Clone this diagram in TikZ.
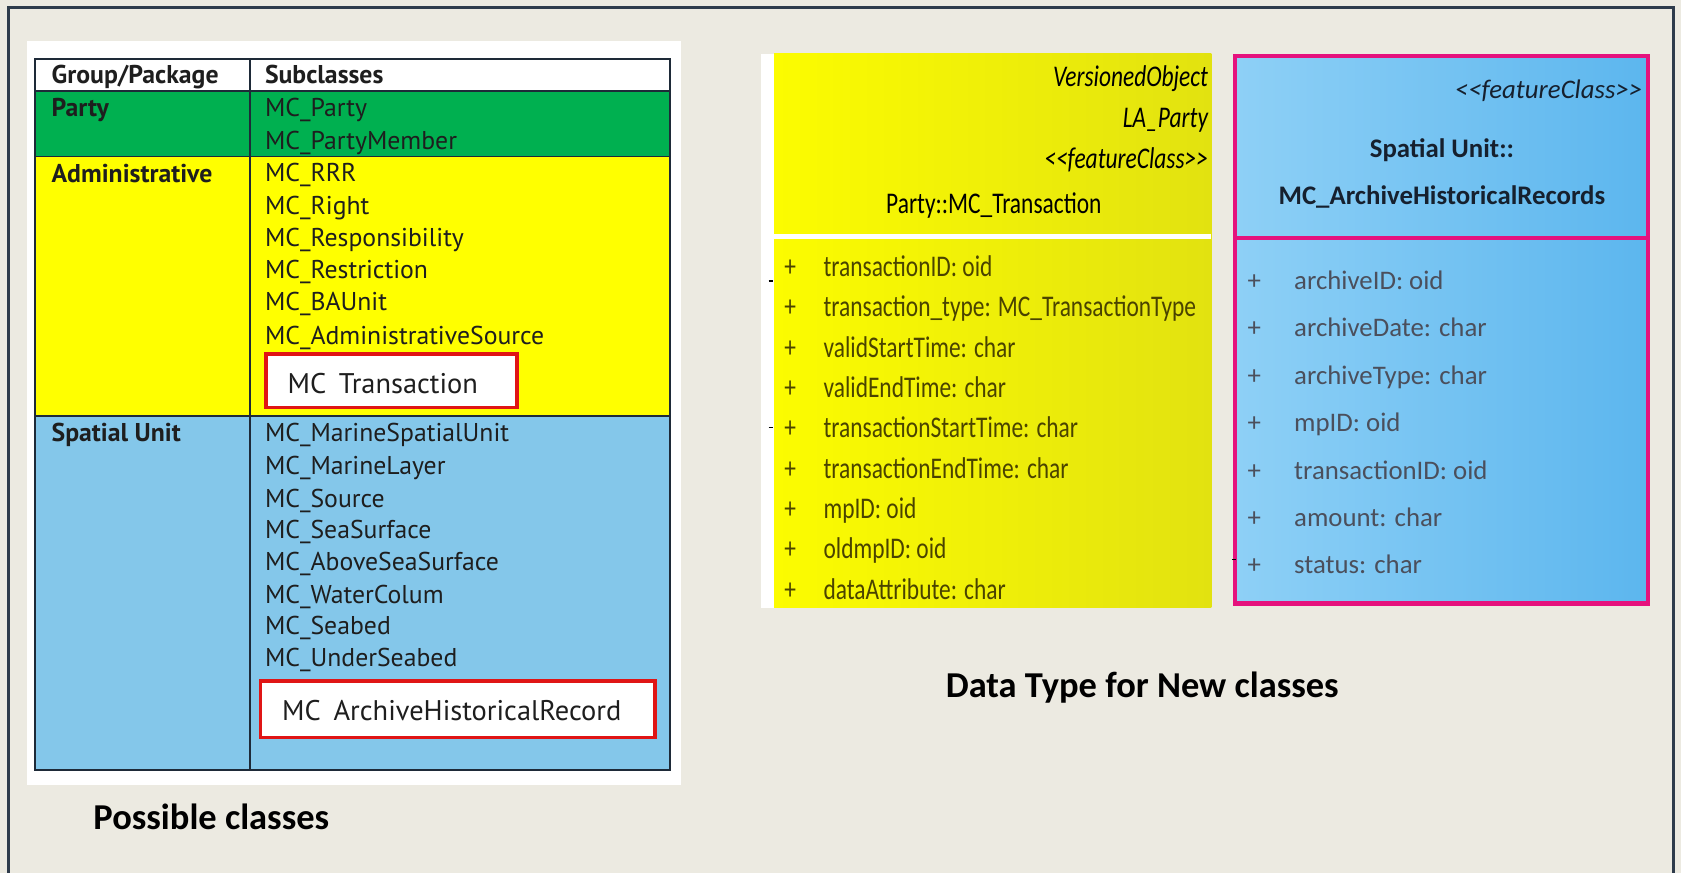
\documentclass[tikz,border=0pt]{standalone}
\usepackage{fontspec}
\setmainfont{Carlito}
\newfontfamily\tabfont{PT Sans}
\usepackage{graphicx}
\newcommand{\umlsq}[1]{\scalebox{0.78}[1]{#1}}
\definecolor{bg}{HTML}{ECEAE1}
\definecolor{framec}{HTML}{2E3B4B}
\definecolor{tline}{HTML}{1E2A38}
\definecolor{pgreen}{HTML}{00B050}
\definecolor{pyellow}{HTML}{FFFF00}
\definecolor{pblue}{HTML}{84C7EA}
\definecolor{ttxt}{HTML}{1E1E1E}
\definecolor{boxred}{HTML}{E01515}
\definecolor{umlyA}{HTML}{FCFC00}
\definecolor{umlyB}{HTML}{E2E210}
\definecolor{olivetxt}{HTML}{4A4300}
\definecolor{umlmag}{HTML}{E5127D}
\definecolor{ublueA}{HTML}{8ED0F6}
\definecolor{ublueB}{HTML}{5CB6EE}
\definecolor{utext}{HTML}{4B4F5C}
\definecolor{navytxt}{HTML}{16202E}
\begin{document}
\begin{tikzpicture}[x=1pt,y=-1pt,
  cell/.style={anchor=base west, inner sep=0pt, text=ttxt, font=\tabfont\fontsize{24}{28}\selectfont},
  hcell/.style={cell, font=\tabfont\bfseries\fontsize{24}{28}\selectfont},
  redbox/.style={draw=boxred, line width=3.5pt, fill=white, inner sep=0pt},
  redtxt/.style={anchor=base west, inner sep=0pt, text=ttxt, font=\tabfont\fontsize{26.5}{30}\selectfont},
  yhead/.style={inner sep=0pt, text=black, font=\fontsize{28}{32}\selectfont},
  yattr/.style={anchor=base west, inner sep=0pt, text=olivetxt, font=\fontsize{28}{32}\selectfont},
  bhead/.style={inner sep=0pt, text=navytxt, font=\bfseries\fontsize{25}{30}\selectfont},
  battr/.style={anchor=base west, inner sep=0pt, text=utext, font=\fontsize{25}{30}\selectfont},
  captxt/.style={anchor=base west, inner sep=0pt, text=black, font=\bfseries\fontsize{34}{40}\selectfont},
]
\useasboundingbox (0,0) rectangle (1568,814);
\fill[bg] (0,0) rectangle (1568,814);
\draw[framec, line width=2.5pt] (8,816) -- (8,7) -- (1561,7) -- (1561,816);

% ---------- left table ----------
\fill[white] (25,38) rectangle (635,732);
\fill[white] (33,55) rectangle (625,85);
\fill[pgreen] (33,85) rectangle (625,146);
\fill[pyellow] (33,146) rectangle (625,388);
\fill[pblue] (33,388) rectangle (625,718);
\draw[tline, line width=1.8pt] (33,55) rectangle (625,718);
\draw[tline, line width=1.8pt] (33,85) -- (625,85) (33,146) -- (625,146) (33,388) -- (625,388) (233,55) -- (233,718);

\node[hcell] (hgrp) at (48,78) {Group/Package};
\node[hcell] (hsub) at (247,78) {Subclasses};
\node[hcell] (gparty) at (48,109) {Party};
\node[hcell] (gadm) at (48,170) {Administrative};
\node[hcell] (gspat) at (48,412) {Spatial Unit};

\foreach \txt/\yy [count=\i] in {MC\_Party/101, MC\_PartyMember/131, MC\_RRR/161, MC\_Right/192, MC\_Responsibility/222, MC\_Restriction/252, MC\_BAUnit/282, MC\_AdministrativeSource/313, MC\_MarineSpatialUnit/404, MC\_MarineLayer/435, MC\_Source/465, MC\_SeaSurface/494, MC\_AboveSeaSurface/524, MC\_WaterColum/555, MC\_Seabed/584, MC\_UnderSeabed/614}
  \node[cell] (sub\i) at (247,\yy+8) {\txt};

\node[redbox, minimum width=234pt, minimum height=50pt] (rb1) at (365,355) {};
\node[redtxt] (rbt1) at (268,367) {MC\hspace{0.45em}Transaction};
\node[redbox, minimum width=368pt, minimum height=53pt] (rb2) at (427,661.5) {};
\node[redtxt] (rbt2) at (263,672) {MC\hspace{0.45em}ArchiveHistoricalRecord};

\node[captxt] (cap1) at (87,774) {Possible classes};

% ---------- yellow UML class ----------
\shade[left color=umlyA, right color=umlyB] (722,50) rectangle (1130,567);
\fill[white] (710,50) rectangle (722,567);
\fill[white] (722,218) rectangle (1130,223);
\node[yhead, anchor=base east] (yv) at (1127,81) {\umlsq{\itshape VersionedObject}};
\node[yhead, anchor=base east] (yl) at (1127,119) {\umlsq{\itshape LA\_Party}};
\node[yhead, anchor=base east] (yf) at (1127,157) {\umlsq{\itshape <{}<featureClass>{}>}};
\node[yhead, anchor=base] (yn) at (927,199) {\umlsq{Party::MC\_Transaction}};
\foreach \txt [count=\i] in {transactionID: oid, transaction\_type: MC\_TransactionType, validStartTime: char, validEndTime: char, transactionStartTime: char, transactionEndTime: char, mpID: oid, oldmpID: oid, dataAttribute: char}
{
  \node[yattr, anchor=base] (yp\i) at (737,{258+(\i-1)*37.6}) {\umlsq{+}};
  \node[yattr] (ya\i) at (768,{258+(\i-1)*37.6}) {\umlsq{\txt}};
}
\draw[black, line width=1.3pt] (717,262) -- (721,262) (717,399) -- (721,399);

% ---------- blue UML class ----------
\shade[left color=ublueA, right color=ublueB] (1152,52) rectangle (1537,563);
\draw[umlmag, line width=4pt] (1152,52) rectangle (1537,563);
\draw[umlmag, line width=4pt] (1152,222) -- (1537,222);
\node[bhead, anchor=base east, font=\itshape\fontsize{25}{30}\selectfont] (bf) at (1532,92) {<{}<featureClass>{}>};
\node[bhead, anchor=base] (bs) at (1345,147) {Spatial Unit::};
\node[bhead, anchor=base] (bn) at (1345,191) {MC\_ArchiveHistoricalRecords};
\foreach \txt [count=\i] in {archiveID: oid, archiveDate: char, archiveType: char, mpID: oid, transactionID: oid, amount: char, status: char}
{
  \node[battr, anchor=base] (bp\i) at (1170,{270+(\i-1)*44.2}) {+};
  \node[battr] (ba\i) at (1207,{270+(\i-1)*44.2}) {\txt};
}
\draw[black, line width=1.3pt] (1149,522) -- (1153,522);

\node[captxt] (cap2) at (882,651) {Data Type for New classes};
\end{tikzpicture}
\end{document}
